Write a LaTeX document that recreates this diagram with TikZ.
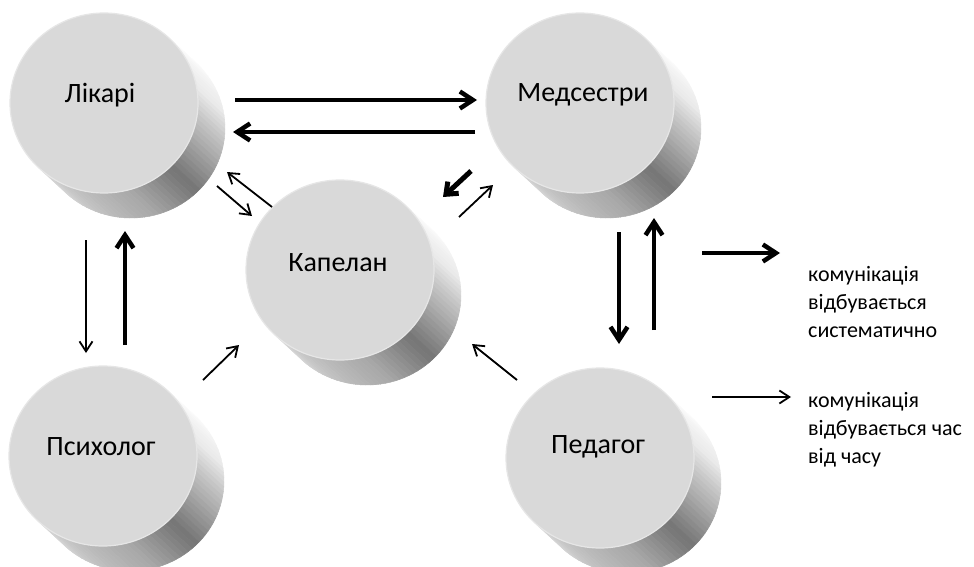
\documentclass[tikz,border=0pt]{standalone}
\usepackage{fontspec}
\setmainfont{Carlito}
\usetikzlibrary{arrows.meta}
\definecolor{facegray}{HTML}{D9D9D9}
\definecolor{faceedge}{HTML}{E6E6E6}
\newcommand\drawdisc[2]{%
\begin{scope}[shift={(#1,#2)}]
 \foreach \i in {0,...,59}{
  \pgfmathsetmacro\ta{-47.2+3*\i}
  \pgfmathsetmacro\tb{\ta+3}
  \pgfmathsetmacro\m{\ta+1.5}
  \pgfmathsetmacro\g{(\m < -10) ? (100-(\m+47.2)*8/37.2) : ((\m < 20) ? (92-(\m+10)*24/30) : ((\m < 45) ? (68-(\m-20)*22/25) : ((\m < 75) ? (46+(\m-45)*20/30) : ((\m < 110) ? (66+(\m-75)*10/35) : (76+(\m-110)*8/22.8)))))}
  \filldraw[white!\g!black, line width=0.5pt, line join=round] (\ta:94 and 90) -- (\tb:94 and 90) -- ([shift={(27,25)}]\tb:94 and 90) -- ([shift={(27,25)}]\ta:94 and 90) -- cycle;
 }
 \fill[facegray, draw=faceedge, line width=1.2pt] (0,0) ellipse [x radius=94, y radius=90];
\end{scope}}
\tikzset{
 thickarr/.style={line width=4.5pt, -{Straight Barb[length=13pt,width=17pt]}},
 shortthick/.style={line width=5pt, -{Straight Barb[length=10pt,width=16pt]}},
 thinarr/.style={line width=1.8pt, -{Straight Barb[length=10pt,width=13pt]}},
 lbl/.style={font=\fontsize{28}{34}\selectfont, inner sep=0pt},
 legend/.style={font=\fontsize{22}{28}\selectfont, align=left, anchor=west, inner sep=0pt}
}
\begin{document}
\begin{tikzpicture}[x=1pt,y=-1pt]
\useasboundingbox[fill=white] (0,0) rectangle (974,567);
% discs
\drawdisc{104}{103}
\drawdisc{580}{103}
\drawdisc{340}{270}
\drawdisc{103}{456}
\drawdisc{600}{458}
% labels
\node[lbl] (likari) at (100,95) {Лікарі};
\node[lbl] (medsestry) at (583,95) {Медсестри};
\node[lbl] (kapelan) at (338,263) {Капелан};
\node[lbl] (psykholoh) at (101,447) {Психолог};
\node[lbl] (pedahoh) at (598,447) {Педагог};
% arrow end points
\coordinate (a1s) at (235,100); \coordinate (a1e) at (477,100);
\coordinate (a2s) at (475,132); \coordinate (a2e) at (233,132);
\coordinate (a3s) at (272,207); \coordinate (a3e) at (227,172);
\coordinate (a4s) at (217,186); \coordinate (a4e) at (252,216);
\coordinate (a5s) at (471,171); \coordinate (a5e) at (443,197);
\coordinate (a6s) at (459,217); \coordinate (a6e) at (493,185);
\coordinate (a7s) at (86,240); \coordinate (a7e) at (86,353);
\coordinate (a8s) at (125,345); \coordinate (a8e) at (125,231);
\coordinate (a9s) at (203,380); \coordinate (a9e) at (239,345);
\coordinate (a10s) at (517,380); \coordinate (a10e) at (472,344);
\coordinate (a11s) at (619,232); \coordinate (a11e) at (619,344);
\coordinate (a12s) at (654,330); \coordinate (a12e) at (654,218);
\coordinate (l1s) at (702,253); \coordinate (l1e) at (780,253);
\coordinate (l2s) at (712,397); \coordinate (l2e) at (791,397);
% arrows
\draw[thickarr] (a1s) -- (a1e);
\draw[thickarr] (a2s) -- (a2e);
\draw[thinarr] (a3s) -- (a3e);
\draw[thinarr] (a4s) -- (a4e);
\draw[shortthick] (a5s) -- (a5e);
\draw[thinarr] (a6s) -- (a6e);
\draw[thinarr] (a7s) -- (a7e);
\draw[thickarr] (a8s) -- (a8e);
\draw[thinarr] (a9s) -- (a9e);
\draw[thinarr] (a10s) -- (a10e);
\draw[thickarr] (a11s) -- (a11e);
\draw[thickarr] (a12s) -- (a12e);
\draw[thickarr] (l1s) -- (l1e);
\draw[thinarr] (l2s) -- (l2e);
% legend
\node[legend] (leg1) at (808,302) {комунікація\\відбувається\\систематично};
\node[legend] (leg2) at (808,430) {комунікація\\відбувається час\\від часу};
\end{tikzpicture}
\end{document}
